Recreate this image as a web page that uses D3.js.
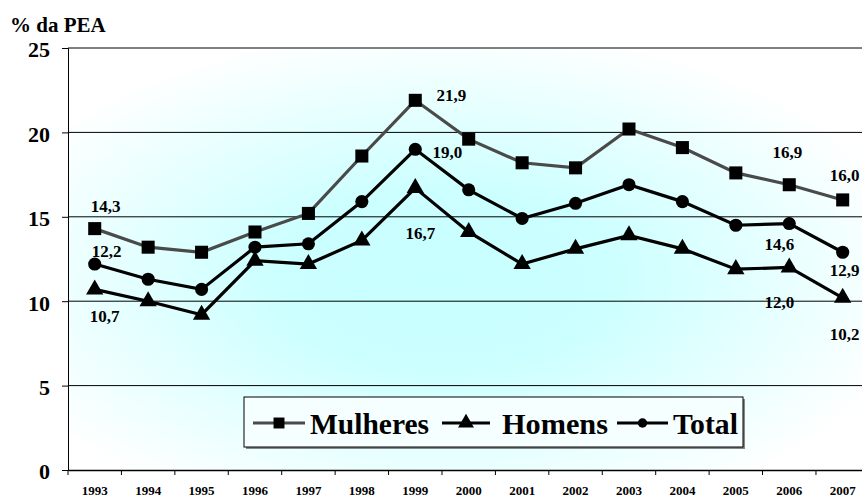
<!DOCTYPE html>
<html>
<head>
<meta charset="utf-8">
<script src="https://cdn.jsdelivr.net/npm/d3@7"></script>
<style>
  body { margin: 0; background: #fff; }
</style>
</head>
<body>
<div id="chart"></div>
<script>
const years = ["1993","1994","1995","1996","1997","1998","1999","2000","2001","2002","2003","2004","2005","2006","2007"];
const mulheres = [14.3, 13.2, 12.9, 14.1, 15.2, 18.6, 21.9, 19.6, 18.2, 17.9, 20.2, 19.1, 17.6, 16.9, 16.0];
const homens   = [10.7, 10.0, 9.2, 12.4, 12.2, 13.6, 16.7, 14.1, 12.2, 13.1, 13.9, 13.1, 11.9, 12.0, 10.2];
const total    = [12.2, 11.3, 10.7, 13.2, 13.4, 15.9, 19.0, 16.6, 14.9, 15.8, 16.9, 15.9, 14.5, 14.6, 12.9];
const yTicks = [0, 5, 10, 15, 20, 25];
const yTitle = "% da PEA";

const width = 862, height = 497;
const plotL = 68, plotR = 869.4, plotT = 48, plotB = 470;
const serif = "'Liberation Serif', 'Times New Roman', 'DejaVu Serif', serif";

const svg = d3.select("#chart").append("svg")
  .attr("width", width)
  .attr("height", height);

const x = d3.scaleBand().domain(years).range([plotL, plotR]).padding(0);
const y = d3.scaleLinear().domain([0, 25]).range([plotB, plotT]);
const cx = (d, i) => x(years[i]) + x.bandwidth() / 2;

// background gradient
const defs = svg.append("defs");
const grad = defs.append("radialGradient").attr("id", "bg")
  .attr("cx", "0.47").attr("cy", "0.55").attr("r", "0.6");
grad.append("stop").attr("offset", "0%").attr("stop-color", "#c8ffff");
grad.append("stop").attr("offset", "35%").attr("stop-color", "#ccffff");
grad.append("stop").attr("offset", "100%").attr("stop-color", "#ffffff");

svg.append("rect")
  .attr("x", plotL).attr("y", plotT)
  .attr("width", plotR - plotL).attr("height", plotB - plotT)
  .attr("fill", "url(#bg)");

// gridlines
svg.append("g").selectAll("line")
  .data(yTicks.filter(d => d > 0))
  .enter().append("line")
  .attr("x1", plotL).attr("x2", plotR)
  .attr("y1", d => y(d)).attr("y2", d => y(d))
  .attr("stroke", "#000").attr("stroke-width", 1);

// y axis
const yAxis = svg.append("g")
  .attr("transform", `translate(${plotL},0)`)
  .call(d3.axisLeft(y).tickValues(yTicks).tickSize(6).tickPadding(12));
yAxis.select(".domain").attr("stroke", "#000");
yAxis.selectAll("text")
  .style("font-family", serif).style("font-weight", "bold")
  .style("font-size", "22px").attr("fill", "#000").attr("dy", "0.4em");

svg.append("text")
  .attr("x", 10).attr("y", 32)
  .style("font-family", serif).style("font-weight", "bold")
  .style("font-size", "21px")
  .text(yTitle);

// x axis
const xAxis = svg.append("g")
  .attr("transform", `translate(0,${plotB})`)
  .call(d3.axisBottom(x).tickSize(0).tickPadding(16));
xAxis.select(".domain").attr("stroke", "#000").attr("stroke-width", 1.5);
xAxis.selectAll("text")
  .style("font-family", serif).style("font-weight", "bold")
  .style("font-size", "13px").attr("fill", "#000");
xAxis.selectAll(".bound")
  .data(years)
  .enter().append("line")
  .attr("class", "bound")
  .attr("x1", d => x(d)).attr("x2", d => x(d))
  .attr("y1", 0).attr("y2", 5)
  .attr("stroke", "#000");

// series
const series = [
  { name: "Mulheres", values: mulheres, color: "#4a4a4a", marker: "square" },
  { name: "Homens", values: homens, color: "#000", marker: "triangle" },
  { name: "Total", values: total, color: "#000", marker: "circle" }
];

const symbolType = { square: d3.symbolSquare, triangle: d3.symbolTriangle, circle: d3.symbolCircle };
const symbolSize = { square: 170, triangle: 130, circle: 135 };

const line = d3.line().x(cx).y(d => y(d));

series.forEach(s => {
  svg.append("path")
    .datum(s.values)
    .attr("d", line)
    .attr("fill", "none")
    .attr("stroke", s.color)
    .attr("stroke-width", 3.2);
  svg.append("g").selectAll("path")
    .data(s.values)
    .enter().append("path")
    .attr("d", d3.symbol().type(symbolType[s.marker]).size(symbolSize[s.marker]))
    .attr("transform", (d, i) => `translate(${cx(d, i)},${y(d)})`)
    .attr("fill", "#000");
});

// value labels: [series, year index, dx, dy]
const labelSpots = [
  [mulheres, 0, 11, -23], [total, 0, 12, -13], [homens, 0, 10, 27],
  [mulheres, 6, 36, -5], [total, 6, 32, 3], [homens, 6, 5, 45],
  [mulheres, 13, -2, -33], [total, 13, -10, 20], [homens, 13, -10, 35],
  [mulheres, 14, 2, -25], [total, 14, 2, 18], [homens, 14, 2, 36]
];
svg.append("g").selectAll("text")
  .data(labelSpots)
  .enter().append("text")
  .attr("x", d => cx(null, d[1]) + d[2])
  .attr("y", d => y(d[0][d[1]]) + d[3])
  .attr("text-anchor", "middle")
  .attr("dy", "0.35em")
  .style("font-family", serif).style("font-weight", "bold")
  .style("font-size", "17px")
  .text(d => d3.format(".1f")(d[0][d[1]]).replace(".", ","));

// legend
const lg = svg.append("g");
lg.append("rect")
  .attr("x", 246).attr("y", 399).attr("width", 499).attr("height", 50)
  .attr("fill", "#888");
lg.append("rect")
  .attr("x", 244).attr("y", 397).attr("width", 499).attr("height", 50)
  .attr("fill", "#f6ffff").attr("stroke", "#000").attr("stroke-width", 1);

const legendItems = [
  { s: series[0], x1: 253, x2: 305, tx: 310, tw: 119, ms: 120 },
  { s: series[1], x1: 442, x2: 490, tx: 502, tw: 106, ms: 110 },
  { s: series[2], x1: 617, x2: 668, tx: 673, tw: 65, ms: 70 }
];
legendItems.forEach(it => {
  lg.append("line")
    .attr("x1", it.x1).attr("x2", it.x2)
    .attr("y1", 423).attr("y2", 423)
    .attr("stroke", it.s.color).attr("stroke-width", 3.2);
  lg.append("path")
    .attr("d", d3.symbol().type(symbolType[it.s.marker]).size(it.ms))
    .attr("transform", `translate(${(it.x1 + it.x2) / 2},423)`)
    .attr("fill", "#000");
  lg.append("text")
    .attr("x", it.tx).attr("y", 434)
    .attr("textLength", it.tw).attr("lengthAdjust", "spacingAndGlyphs")
    .style("font-family", serif).style("font-weight", "bold")
    .style("font-size", "29px")
    .text(it.s.name);
});
</script>
</body>
</html>
